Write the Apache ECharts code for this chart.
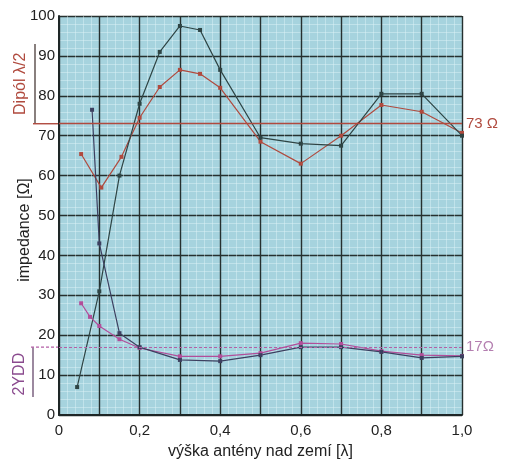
<!DOCTYPE html>
<html>
<head>
<meta charset="utf-8">
<script src="https://cdn.jsdelivr.net/npm/echarts@6/dist/echarts.min.js"></script>
<style>
html,body{margin:0;padding:0;background:#fff;}
#c{width:510px;height:469px;}
</style>
</head>
<body>
<div id="c"></div>
<script>
// ---- data ----
const dipoleDarkX = [0.045, 0.1, 0.15, 0.2, 0.25, 0.3, 0.35, 0.4, 0.5, 0.6, 0.7, 0.8, 0.9, 1.0];
const dipoleDarkY = [7, 31, 60, 78, 91, 97.5, 96.5, 86.5, 69.5, 68, 67.5, 80.5, 80.5, 70];

const dipoleRedX = [0.055, 0.105, 0.155, 0.2, 0.25, 0.3, 0.35, 0.4, 0.5, 0.6, 0.7, 0.8, 0.9, 1.0];
const dipoleRedY = [65.4, 57, 64.7, 74.5, 82.2, 86.5, 85.5, 82, 68.5, 63, 70, 77.7, 76, 70.7];

const yddDarkX = [0.082, 0.1, 0.15, 0.2, 0.3, 0.4, 0.5, 0.6, 0.7, 0.8, 0.9, 1.0];
const yddDarkY = [76.5, 43, 20.5, 17, 13.8, 13.5, 15, 17, 17, 15.8, 14.3, 14.7];

const yddPinkX = [0.055, 0.077, 0.1, 0.15, 0.2, 0.3, 0.4, 0.5, 0.6, 0.7, 0.8, 0.9, 1.0];
const yddPinkY = [28, 24.6, 22.3, 19, 16.8, 14.7, 14.7, 15.5, 18, 17.8, 16, 15, 14.8];

const dipoleRef = 73;
const yddRef = 17;
const dipoleRefLabel = '73 Ω';
const yddRefLabel = '17Ω';
const xTickValues = [0, 0.2, 0.4, 0.6, 0.8, 1.0];
const xTickLabels = ['0', '0,2', '0,4', '0,6', '0,8', '1,0'];
const yTickLabels = ['0','10','20','30','40','50','60','70','80','90','100'];
const dipoleBracket = [73, 93];
const yddBracket = [17, 4.5];

const zip = (xs, ys) => xs.map((x, i) => [x, ys[i]]);

const FONT = '"Liberation Sans", Arial, sans-serif';
const RED = '#b04a3e';
const DARK = '#2e4444';
const PINK = '#b24e9a';
const NAVY = '#3d4060';
const PINKREF = '#b45fa6';

const chart = echarts.init(document.getElementById('c'), null, {renderer: 'canvas'});

const gridLeft = 59, gridRight = 48, gridTop = 16, gridBottom = 54;

const option = {
  backgroundColor: '#ffffff',
  animation: false,
  grid: {
    left: gridLeft, right: gridRight, top: gridTop, bottom: gridBottom,
    show: true, backgroundColor: '#a6d3de', borderWidth: 0
  },
  xAxis: {
    type: 'value', min: 0, max: 1.0, interval: 0.1,
    name: 'výška antény nad zemí [λ]', nameLocation: 'middle', nameGap: 29,
    nameTextStyle: {fontFamily: FONT, fontSize: 16, color: '#222'},
    axisLine: {show: true, lineStyle: {color: '#1e2626', width: 2}},
    axisTick: {show: false},
    axisLabel: {
      fontFamily: FONT, fontSize: 15, color: '#222', margin: 8,
      formatter: v => {
        const i = xTickValues.findIndex(t => Math.abs(t - v) < 1e-6);
        return i >= 0 ? xTickLabels[i] : '';
      }
    },
    splitLine: {show: true, lineStyle: {color: '#26302f', width: 1.4}},
    minorTick: {show: true, splitNumber: 5, length: 0},
    minorSplitLine: {show: true, lineStyle: {color: 'rgba(225,243,248,0.45)', width: 1}}
  },
  yAxis: {
    type: 'value', min: 0, max: 100, interval: 10,
    axisLine: {show: true, lineStyle: {color: '#1e2626', width: 2}},
    axisTick: {show: false},
    axisLabel: {
      fontFamily: FONT, fontSize: 15, color: '#222', margin: 4,
      formatter: v => yTickLabels[Math.round(v / 10)]
    },
    splitLine: {show: true, lineStyle: {color: '#26302f', width: 1.4}},
    minorTick: {show: true, splitNumber: 5, length: 0},
    minorSplitLine: {show: true, lineStyle: {color: 'rgba(225,243,248,0.45)', width: 1}}
  },
  series: [
    {
      type: 'line', data: zip(dipoleRedX, dipoleRedY),
      symbol: 'rect', symbolSize: 4, itemStyle: {color: RED},
      lineStyle: {color: RED, width: 1.2},
      markLine: {
        silent: true, symbol: 'none',
        itemStyle: {color: RED},
        lineStyle: {color: RED, width: 1.4, type: 'solid', opacity: 1},
        emphasis: {disabled: true},
        label: {position: 'end', formatter: dipoleRefLabel, color: RED, fontFamily: FONT, fontSize: 15, distance: 4},
        data: [{yAxis: dipoleRef, lineStyle: {color: RED, width: 1.4, type: 'solid'}}]
      }
    },
    {
      type: 'line', data: zip(dipoleDarkX, dipoleDarkY),
      symbol: 'rect', symbolSize: 4, itemStyle: {color: DARK},
      lineStyle: {color: DARK, width: 1.2}
    },
    {
      type: 'line', data: zip(yddPinkX, yddPinkY),
      symbol: 'rect', symbolSize: 4, itemStyle: {color: PINK},
      lineStyle: {color: PINK, width: 1.2},
      markLine: {
        silent: true, symbol: 'none',
        itemStyle: {color: PINKREF},
        lineStyle: {color: PINKREF, width: 1.2, type: [3, 2], opacity: 1},
        emphasis: {disabled: true},
        label: {position: 'end', formatter: yddRefLabel, color: '#b47fb0', fontFamily: FONT, fontSize: 15, distance: 4},
        data: [{yAxis: yddRef, lineStyle: {color: PINKREF, width: 1.2, type: [3, 2]}}]
      }
    },
    {
      type: 'line', data: zip(yddDarkX, yddDarkY),
      symbol: 'rect', symbolSize: 4, itemStyle: {color: NAVY},
      lineStyle: {color: NAVY, width: 1.2}
    }
  ]
};

chart.setOption(option);

function py(v) { return chart.convertToPixel({gridIndex: 0}, [0, v])[1]; }

const dTop = py(dipoleBracket[1]), dBot = py(dipoleBracket[0]);
const yTop = py(yddBracket[0]), yBot = py(yddBracket[1]);

chart.setOption({
  graphic: [
    {type: 'line', shape: {x1: 35, y1: dTop, x2: 35, y2: dBot}, style: {stroke: '#3a2a28', lineWidth: 1.2}},
    {type: 'line', shape: {x1: 33, y1: dBot, x2: gridLeft, y2: dBot}, style: {stroke: RED, lineWidth: 1.4}},
    {type: 'line', shape: {x1: 33, y1: yTop, x2: 33, y2: yBot}, style: {stroke: '#5a3a60', lineWidth: 1.2}},
    {type: 'line', shape: {x1: 31, y1: yTop, x2: gridLeft, y2: yTop}, style: {stroke: PINKREF, lineWidth: 1.2, lineDash: [3, 2]}},
    {type: 'text', x: 21, y: (dTop + dBot) / 2, rotation: Math.PI / 2,
      style: {text: 'Dipól λ/2', fill: RED, font: '16px ' + FONT, textAlign: 'center', textVerticalAlign: 'middle'}},
    {type: 'text', x: 25, y: 230, rotation: Math.PI / 2,
      style: {text: 'impedance [Ω]', fill: '#222', font: '16px ' + FONT, textAlign: 'center', textVerticalAlign: 'middle'}},
    {type: 'text', x: 20, y: (yTop + yBot) / 2 + 2, rotation: Math.PI / 2,
      style: {text: '2YDD', fill: '#8a4a8e', font: '16px ' + FONT, textAlign: 'center', textVerticalAlign: 'middle'}}
  ]
});
</script>
</body>
</html>
